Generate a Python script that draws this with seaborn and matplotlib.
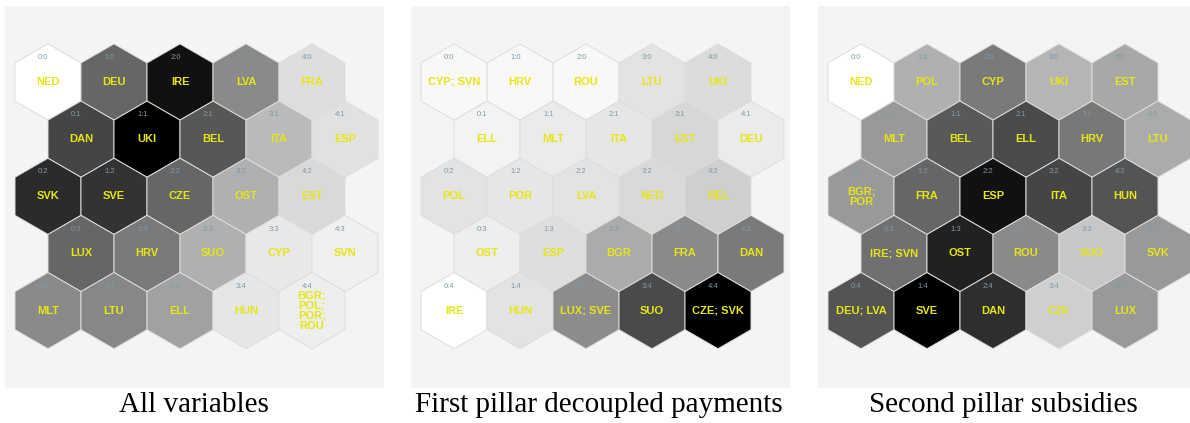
import numpy as np
import pandas as pd
import matplotlib
matplotlib.use("Agg")
import matplotlib.pyplot as plt
import seaborn as sns

# ---------------- data (row-major: row 0..4, column 0..4) ----------------
titles = ["All variables", "First pillar decoupled payments", "Second pillar subsidies"]

labels_all = [
    "NED", "DEU", "IRE", "LVA", "FRA",
    "DAN", "UKI", "BEL", "ITA", "ESP",
    "SVK", "SVE", "CZE", "OST", "EST",
    "LUX", "HRV", "SUO", "CYP", "SVN",
    "MLT", "LTU", "ELL", "HUN", "BGR;\nPOL;\nPOR;\nROU",
]
dark_all = [
    0.00, 0.60, 0.93, 0.46, 0.13,
    0.73, 1.00, 0.66, 0.27, 0.12,
    0.83, 0.80, 0.60, 0.31, 0.15,
    0.60, 0.52, 0.31, 0.09, 0.06,
    0.46, 0.47, 0.37, 0.10, 0.07,
]

labels_first = [
    "CYP; SVN", "HRV", "ROU", "LTU", "UKI",
    "ELL", "MLT", "ITA", "EST", "DEU",
    "POL", "POR", "LVA", "NED", "BEL",
    "OST", "ESP", "BGR", "FRA", "DAN",
    "IRE", "HUN", "LUX; SVE", "SUO", "CZE; SVK",
]
dark_first = [
    0.03, 0.03, 0.03, 0.11, 0.14,
    0.05, 0.08, 0.10, 0.16, 0.08,
    0.11, 0.10, 0.11, 0.15, 0.19,
    0.07, 0.13, 0.33, 0.46, 0.52,
    0.00, 0.11, 0.45, 0.71, 1.00,
]

labels_second = [
    "NED", "POL", "CYP", "UKI", "EST",
    "MLT", "BEL", "ELL", "HRV", "LTU",
    "BGR;\nPOR", "FRA", "ESP", "ITA", "HUN",
    "IRE; SVN", "OST", "ROU", "SUO", "SVK",
    "DEU; LVA", "SVE", "DAN", "CZE", "LUX",
]
dark_second = [
    0.00, 0.31, 0.52, 0.29, 0.34,
    0.40, 0.65, 0.71, 0.53, 0.33,
    0.40, 0.60, 0.93, 0.73, 0.67,
    0.56, 0.87, 0.46, 0.22, 0.40,
    0.67, 1.00, 0.82, 0.19, 0.40,
]

panels = [
    (labels_all, dark_all),
    (labels_first, dark_first),
    (labels_second, dark_second),
]

# ---------------- layout ----------------
W, H, DPI = 1190, 423, 100
UNIT = 66.0                     # px per hex column
panel_lefts = [5, 411, 818]
panel_widths = [379, 379, 372]
panel_top, panel_bottom = 6, 388
hex_off_x, hex_off_y = 43, 76   # centre of hex 0:0 from panel's top-left corner
title_x = [194, 599, 1003]
title_y = 405

sns.set_style("white")
plt.rcParams["font.family"] = ["Liberation Sans", "DejaVu Sans"]

fig = plt.figure(figsize=(W / DPI, H / DPI), dpi=DPI)
fig.patch.set_facecolor("white")

r_pt = UNIT / np.sqrt(3) * 72.0 / DPI
marker_area = (2 * r_pt) ** 2

for p, (labs, dark) in enumerate(panels):
    pw = panel_widths[p]
    ph = panel_bottom - panel_top
    ax = fig.add_axes([panel_lefts[p] / W, (H - panel_bottom) / H, pw / W, ph / H])
    ax.set_facecolor("#f4f4f4")

    rows = np.repeat(np.arange(5), 5)
    cols = np.tile(np.arange(5), 5)
    df = pd.DataFrame({
        "col": cols, "row": rows,
        "x": cols + 0.5 * (rows % 2),
        "y": rows * np.sqrt(3) / 2,
        "dark": dark, "label": labs,
    })

    sns.scatterplot(data=df, x="x", y="y", hue="dark", palette="gray_r",
                    hue_norm=(0, 1), marker="h", s=marker_area,
                    edgecolor="#e2dcd6", linewidth=0.7, legend=False, ax=ax,
                    zorder=2)

    for _, r in df.iterrows():
        ax.text(r.x, r.y, r.label, ha="center", va="center", color="#e6e614",
                fontsize=8, fontweight="bold", linespacing=1.05, zorder=4)
        ax.text(r.x - 0.07, r.y - 0.37, f"{r.col}:{r.row}", ha="center",
                va="center", color="#7f9aa6", fontsize=5.5, zorder=4)

    ax.set_xlim(-hex_off_x / UNIT, (pw - hex_off_x) / UNIT)
    ax.set_ylim((ph - hex_off_y) / UNIT, -hex_off_y / UNIT)
    ax.set_xlabel("")
    ax.set_ylabel("")
    ax.set_xticks([])
    ax.set_yticks([])
    for s in ax.spines.values():
        s.set_visible(False)

    fig.text(title_x[p] / W, 1 - title_y / H, titles[p], ha="center",
             va="center", fontsize=21, family="Liberation Serif", color="black")

fig.savefig("out.png", dpi=DPI, facecolor="white")
